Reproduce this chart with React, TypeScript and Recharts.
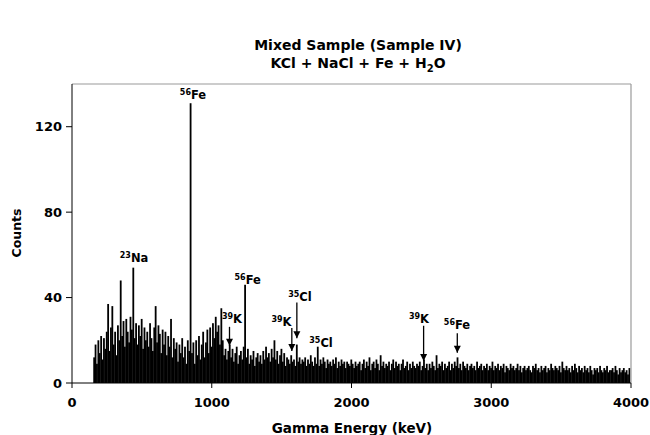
import React from "react";
import { BarChart, Bar, XAxis, YAxis, ReferenceLine, ReferenceDot } from "recharts";

// spectrum counts, 10 keV bins starting at 160 keV
const startKeV = 160;
const binKeV = 10;
const counts = [
  12, 18, 9, 20, 14, 22, 11, 21, 16, 24,
  37, 15, 26, 36, 18, 24, 13, 27, 20, 48,
  22, 29, 17, 30, 24, 19, 31, 25, 54, 21,
  28, 18, 27, 22, 30, 16, 26, 20, 24, 17,
  28, 21, 15, 26, 36, 19, 27, 23, 14, 25,
  18, 24, 13, 22, 17, 30, 12, 21, 16, 19,
  10, 18, 14, 21, 12, 17, 9, 20, 15, 131,
  14, 19, 9, 20, 13, 22, 11, 18, 24, 12,
  19, 25, 14, 26, 17, 28, 21, 31, 24, 27,
  18, 35, 20, 13, 16, 11, 15, 18, 12, 16,
  10, 14, 17, 9, 13, 15, 11, 17, 46, 12,
  16, 9, 13, 11, 15, 8, 12, 14, 10, 13,
  9, 15, 11, 17, 12, 14, 10, 16, 12, 20,
  11, 15, 9, 13, 16, 10, 14, 8, 12, 11,
  9, 13, 10, 11, 8, 18, 10, 12, 9, 11,
  10, 12, 8, 11, 9, 13, 10, 8, 12, 9,
  17, 8, 11, 9, 12, 10, 7, 11, 9, 10,
  8, 11, 9, 12, 7, 10, 8, 11, 9, 10,
  7, 10, 9, 8, 11, 9, 7, 10, 8, 9,
  10, 6, 9, 11, 7, 10, 8, 12, 6, 9,
  10, 7, 11, 9, 6, 13, 8, 10, 7, 9,
  8, 10, 6, 9, 11, 7, 10, 8, 9, 6,
  9, 11, 7, 8, 10, 6, 9, 7, 10, 8,
  7, 9, 8, 10, 6, 8, 11, 7, 9, 6,
  9, 7, 10, 8, 6, 13, 7, 9, 8, 10,
  6, 9, 7, 8, 10, 6, 9, 7, 10, 8,
  12, 7, 9, 6, 10, 8, 7, 9, 6, 8,
  9, 7, 8, 6, 10, 7, 8, 9, 6, 8,
  7, 9, 6, 8, 7, 10, 6, 8, 7, 9,
  6, 8, 7, 9, 5, 8, 7, 6, 9, 7,
  8, 6, 7, 9, 6, 8, 5, 7, 8, 6,
  7, 8, 6, 5, 8, 7, 9, 6, 7, 5,
  8, 6, 7, 8, 5, 7, 6, 9, 7, 6,
  8, 7, 6, 8, 5, 10, 7, 6, 8, 6,
  7, 5, 8, 6, 9, 7, 5, 8, 6, 7,
  5, 8, 6, 7, 5, 8, 6, 4, 7, 6,
  7, 5, 8, 6, 5, 7, 6, 8, 5, 6,
  6, 7, 5, 8, 6, 4, 7, 5, 6, 7,
  5, 6, 4, 7,
];

const xTicks = [0, 1000, 2000, 3000, 4000];
const yTicks = [0, 40, 80, 120];

// peak labels: [energy, counts] is the label anchor (text centre / baseline)
const peakMass = ["56", "23", "39", "56", "39", "35", "35", "39", "56"];
const peakSymbol = ["Fe", "Na", "K", "Fe", "K", "Cl", "Cl", "K", "Fe"];
const peakLabelEnergy = [866, 444, 1145, 1257, 1499, 1631, 1782, 2483, 2755];
const peakLabelCounts = [133, 56.5, 28.2, 46.4, 26.8, 38.2, 16.8, 28, 25.2];

// arrows pointing down at peaks
const arrowEnergy = [1127, 1573, 1609, 2516, 2757];
const arrowFrom = [26.3, 25.8, 37.7, 26.8, 23.3];
const arrowTo = [17.4, 15, 21, 10.3, 14.2];

const data = counts.map((c, i) => ({ energy: startKeV + i * binKeV, counts: c }));
const font = "'DejaVu Sans', Verdana, sans-serif";

const PeakLabel = ({ cx, cy, mass, symbol }: any) => (
  <text x={cx} y={cy} textAnchor="middle" fontFamily={font} fontWeight="bold" fill="#000">
    <tspan fontSize={8} dy={-4}>{mass}</tspan>
    <tspan fontSize={11.5} dy={4}>{symbol}</tspan>
  </text>
);

const ArrowHead = ({ cx, cy }: any) => (
  <polygon points={`${cx - 3.5},${cy - 7} ${cx + 3.5},${cy - 7} ${cx},${cy}`} fill="#000" />
);

// thin spike; widened slightly so neighbouring channels merge like the original
const Spike = ({ x, y, width, height }: any) => {
  if (!height || height <= 0) return null;
  const cx = x + width / 2;
  return <rect x={cx - 0.9} y={y} width={1.8} height={height} fill="#000" />;
};

const tickStyle = { fill: "#000", fontSize: 13, fontWeight: "bold", fontFamily: font };

export default function App() {
  return (
    <div style={{ position: "relative", width: 650, height: 435, background: "#fff" }}>
      <style>{`body{margin:0}`}</style>
      <BarChart
        width={650}
        height={435}
        data={data}
        margin={{ top: 84, right: 19, bottom: 22, left: 32 }}
        barCategoryGap={0}
      >
        <XAxis
          dataKey="energy"
          type="number"
          domain={[0, 4000]}
          ticks={xTicks}
          height={30}
          stroke="#000"
          tickSize={5}
          tickMargin={10}
          tick={tickStyle}
        />
        <YAxis
          type="number"
          domain={[0, 140]}
          ticks={yTicks}
          width={40}
          stroke="#000"
          tickSize={6}
          tickMargin={4}
          tick={tickStyle}
        />
        <ReferenceLine y={140} stroke="#9a9a9a" strokeWidth={1.2} />
        <ReferenceLine x={4000} stroke="#9a9a9a" strokeWidth={1.2} />
        <Bar dataKey="counts" fill="#000" shape={(p: any) => <Spike {...p} />} isAnimationActive={false} />
        {arrowEnergy.map((e, i) => (
          <ReferenceLine
            key={"a" + i}
            segment={[{ x: e, y: arrowFrom[i] }, { x: e, y: arrowTo[i] }]}
            stroke="#000"
            strokeWidth={1.3}
          />
        ))}
        {arrowEnergy.map((e, i) => (
          <ReferenceDot key={"h" + i} x={e} y={arrowTo[i]} shape={(p: any) => <ArrowHead {...p} />} />
        ))}
        {peakMass.map((m, i) => (
          <ReferenceDot
            key={"p" + i}
            x={peakLabelEnergy[i]}
            y={peakLabelCounts[i]}
            shape={(p: any) => <PeakLabel {...p} mass={m} symbol={peakSymbol[i]} />}
          />
        ))}
      </BarChart>
      <svg width={650} height={435} style={{ position: "absolute", left: 0, top: 0, pointerEvents: "none" }}>
        <text x={358} y={50} textAnchor="middle" fontFamily={font} fontWeight="bold" fontSize={14}>
          Mixed Sample (Sample IV)
        </text>
        <text x={358} y={68} textAnchor="middle" fontFamily={font} fontWeight="bold" fontSize={14}>
          KCl + NaCl + Fe + H<tspan fontSize={10} dy={4}>2</tspan>
          <tspan dy={-4}>O</tspan>
        </text>
        <text x={352} y={433} textAnchor="middle" fontFamily={font} fontWeight="bold" fontSize={13.5}>
          Gamma Energy (keV)
        </text>
        <text
          x={0}
          y={0}
          transform="translate(21,233) rotate(-90)"
          textAnchor="middle"
          fontFamily={font}
          fontWeight="bold"
          fontSize={12.5}
        >
          Counts
        </text>
      </svg>
    </div>
  );
}
